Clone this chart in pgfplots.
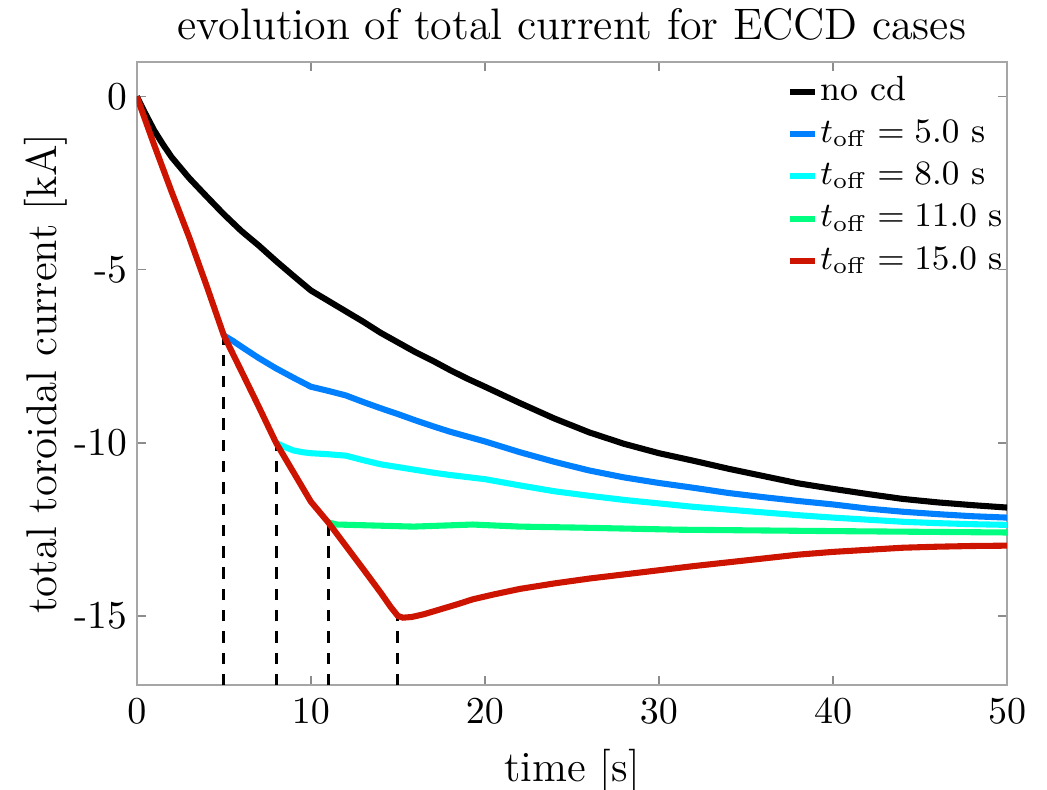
\documentclass[border=0pt]{standalone}
\usepackage{pgfplots}
\pgfplotsset{compat=1.18}
\definecolor{cBlue}{RGB}{0,128,255}
\definecolor{cCyan}{RGB}{0,255,255}
\definecolor{cGreen}{RGB}{0,255,128}
\definecolor{cRed}{RGB}{204,20,0}
\begin{document}
\begin{tikzpicture}
\begin{axis}[
  scale only axis, width=229pt, height=164pt,
  xmin=0, xmax=50, ymin=-17, ymax=1,
  xtick={0,10,20,30,40,50},
  ytick={-15,-10,-5,0}, yticklabels={-15,-10,-5,0},
  tick align=inside, major tick length=2.3pt,
  axis line style={black!35, line width=0.5pt},
  every tick/.style={black!45, line width=0.4pt},
  tick label style={font=\fontsize{10.4}{12}\selectfont},
  yticklabel style={xshift=1pt},
  label style={font=\fontsize{11.3}{13}\selectfont},
  ylabel style={yshift=-5pt},
  title style={font=\fontsize{11.6}{13}\selectfont, yshift=-4pt},
  title={evolution of total current for ECCD cases},
  xlabel={time [s]}, ylabel={total toroidal current [kA]},
  legend style={at={(1.012,0.998)}, anchor=north east, draw=none, fill=none,
    font=\fontsize{9.2}{11}\selectfont, row sep=0.3pt,
    nodes={inner sep=0.6pt, text height=7pt, text depth=2.6pt}},
  legend cell align=left,
  legend image code/.code={\draw[#1] (0,0) -- (6.5pt,0);},
]
% dashed markers
\addplot[black, line width=0.8pt, dash pattern=on 3pt off 2.6pt, forget plot] coordinates {(5,-17) (5,-6.9)};
\addplot[black, line width=0.8pt, dash pattern=on 3pt off 2.6pt, forget plot] coordinates {(8,-17) (8,-10.0)};
\addplot[black, line width=0.8pt, dash pattern=on 3pt off 2.6pt, forget plot] coordinates {(11,-17) (11,-12.3)};
\addplot[black, line width=0.8pt, dash pattern=on 3pt off 2.6pt, forget plot] coordinates {(15,-17) (15,-15.0)};
% no cd
\addplot[black, line width=1.6pt] coordinates {
(0,0) (0.5,-0.5) (1,-0.98) (1.5,-1.38) (2,-1.75) (2.5,-2.05) (3,-2.35) (4,-2.88) (5,-3.4)
(6,-3.88) (7,-4.3) (8,-4.75) (9,-5.18) (10,-5.6) (11,-5.9) (12,-6.2) (13,-6.5) (14,-6.82)
(15,-7.1) (16,-7.38) (17,-7.63) (18,-7.9) (19,-8.15) (20,-8.38) (22,-8.85) (24,-9.3)
(26,-9.7) (28,-10.03) (30,-10.3) (32,-10.52) (34,-10.75) (36,-10.96) (38,-11.17) (40,-11.33)
(42,-11.48) (44,-11.62) (46,-11.72) (48,-11.8) (50,-11.87)};
\addlegendentry{no cd}
% t_off = 5
\addplot[cBlue, line width=1.6pt] coordinates {
(5,-6.9) (5.5,-7.05) (6,-7.22) (7,-7.55) (8,-7.85) (9,-8.12) (10,-8.38) (11,-8.5) (12,-8.63)
(13,-8.82) (14,-9.0) (15,-9.17) (16,-9.35) (17,-9.52) (18,-9.68) (19,-9.82) (20,-9.96)
(22,-10.27) (24,-10.55) (26,-10.8) (28,-11.0) (30,-11.16) (32,-11.3) (34,-11.45) (36,-11.57)
(38,-11.68) (40,-11.78) (42,-11.9) (44,-11.99) (46,-12.06) (48,-12.12) (50,-12.16)};
\addlegendentry{$t_{\mathrm{off}} = 5.0$ s}
% t_off = 8
\addplot[cCyan, line width=1.6pt] coordinates {
(8,-10.0) (8.5,-10.12) (9,-10.22) (9.5,-10.27) (10,-10.3) (11,-10.33) (12,-10.37) (13,-10.5)
(14,-10.62) (15,-10.7) (16,-10.78) (17,-10.86) (18,-10.93) (19,-10.99) (20,-11.05) (22,-11.23)
(24,-11.4) (26,-11.53) (28,-11.65) (30,-11.75) (32,-11.85) (34,-11.93) (36,-12.01) (38,-12.09)
(40,-12.16) (42,-12.22) (44,-12.28) (46,-12.32) (48,-12.35) (50,-12.37)};
\addlegendentry{$t_{\mathrm{off}} = 8.0$ s}
% t_off = 11
\addplot[cGreen, line width=1.6pt] coordinates {
(11,-12.3) (11.5,-12.36) (13,-12.38) (15.9,-12.42) (19.3,-12.36) (22,-12.42) (25.5,-12.45)
(31.2,-12.51) (40,-12.55) (50,-12.59)};
\addlegendentry{$t_{\mathrm{off}} = 11.0$ s}
% t_off = 15
\addplot[cRed, line width=1.6pt] coordinates {
(0,0) (1,-1.4) (2,-2.75) (3,-4.05) (4,-5.45) (5,-6.9) (6,-7.92) (7,-8.95) (8,-10.0) (9,-10.85)
(10,-11.7) (11,-12.3) (12,-12.97) (13,-13.64) (14,-14.32) (14.6,-14.75) (15,-15.0) (15.3,-15.05)
(15.8,-15.03) (16.5,-14.95) (17.5,-14.8) (18.5,-14.65) (19.3,-14.52) (20.5,-14.38) (22,-14.22)
(24,-14.06) (26,-13.92) (28,-13.8) (30,-13.68) (32,-13.56) (34,-13.45) (36,-13.34) (38,-13.23)
(40,-13.15) (42,-13.09) (44,-13.03) (46,-13.0) (48,-12.98) (50,-12.97)};
\addlegendentry{$t_{\mathrm{off}} = 15.0$ s}
\end{axis}
\pgfresetboundingbox
\useasboundingbox ([xshift=-36pt, yshift=-27.4pt]current axis.south west) rectangle ([xshift=10.5pt, yshift=16.3pt]current axis.north east);
\end{tikzpicture}
\end{document}
